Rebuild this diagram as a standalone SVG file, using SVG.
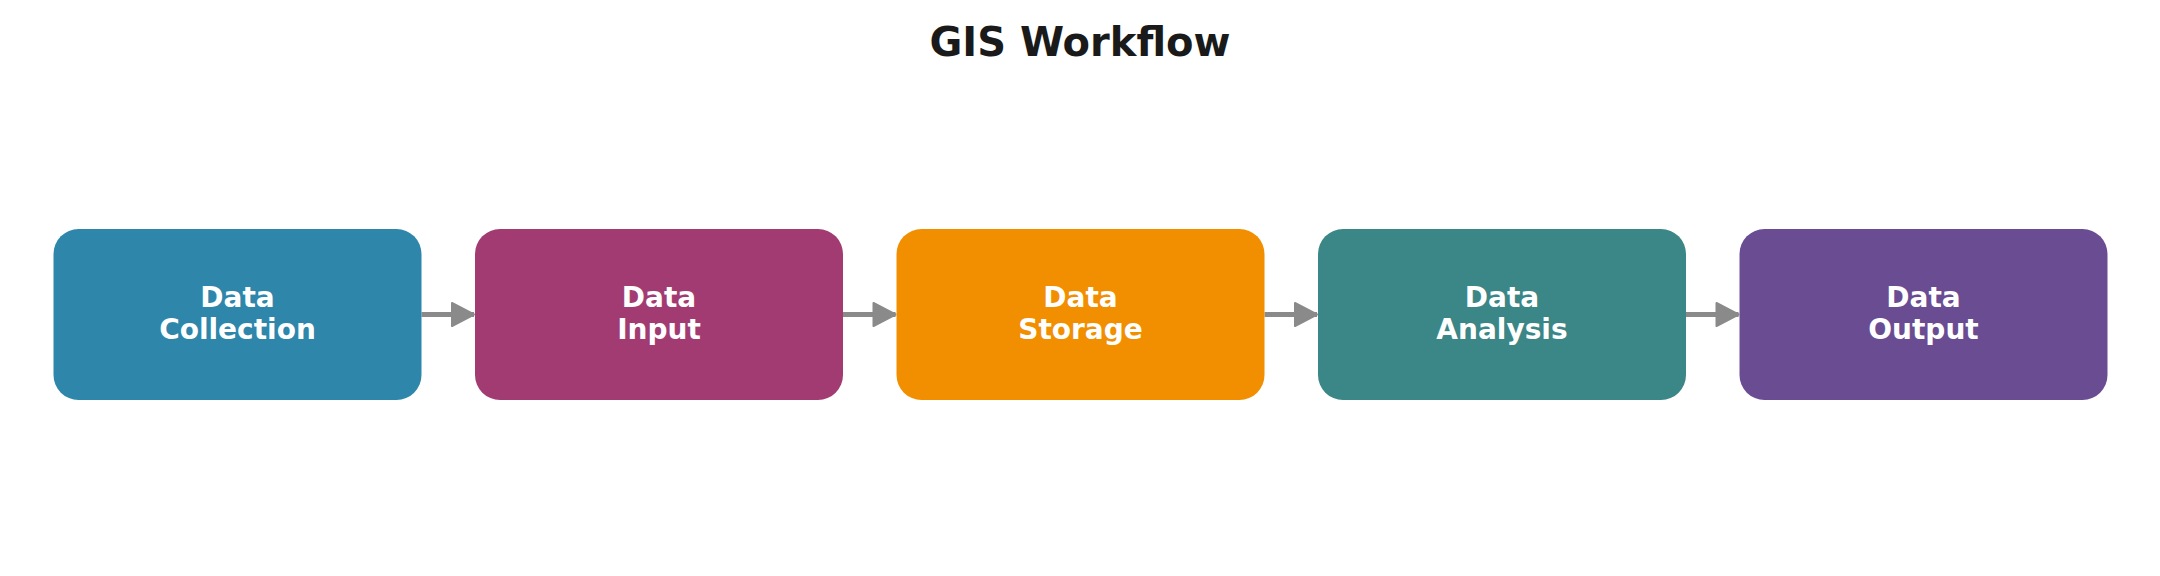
<svg xmlns="http://www.w3.org/2000/svg" width="2160" height="576" viewBox="0 0 2160 576">
  <style>
    .box { stroke: none; }
    .lbl { font-family: "DejaVu Sans", sans-serif; font-weight: bold; font-size: 28px; fill: #ffffff; text-anchor: middle; }
    .title { font-family: "DejaVu Sans", sans-serif; font-weight: bold; font-size: 40px; fill: #1a1a1a; text-anchor: middle; }
    .conn { stroke: #8a8a8a; stroke-width: 5; fill: none; }
  </style>
  <defs>
    <marker id="arrow" markerUnits="userSpaceOnUse" viewBox="0 0 26 26" refX="24" refY="13" markerWidth="26" markerHeight="26" orient="auto">
      <path d="M2,1.5 L24,13 L2,24.5 Z" fill="#8a8a8a" stroke="#8a8a8a" stroke-width="2" stroke-linejoin="round"/>
    </marker>
  </defs>
  <rect width="2160" height="576" fill="#ffffff"/>
  <text class="title" x="1080" y="56">GIS Workflow</text>
  <g id="connectors">
    <line class="conn" x1="421.5" y1="314.5" x2="474" y2="314.5" marker-end="url(#arrow)"/>
    <line class="conn" x1="843" y1="314.5" x2="895.5" y2="314.5" marker-end="url(#arrow)"/>
    <line class="conn" x1="1264.5" y1="314.5" x2="1317" y2="314.5" marker-end="url(#arrow)"/>
    <line class="conn" x1="1686" y1="314.5" x2="1738.5" y2="314.5" marker-end="url(#arrow)"/>
  </g>
  <g id="node-collection">
    <rect class="box" x="53.5" y="229" width="368" height="171" rx="25" fill="#2E86AB"/>
    <text class="lbl" x="237.5" y="307">Data</text>
    <text class="lbl" x="237.5" y="339">Collection</text>
  </g>
  <g id="node-input">
    <rect class="box" x="475" y="229" width="368" height="171" rx="25" fill="#A23B72"/>
    <text class="lbl" x="659" y="307">Data</text>
    <text class="lbl" x="659" y="339">Input</text>
  </g>
  <g id="node-storage">
    <rect class="box" x="896.5" y="229" width="368" height="171" rx="25" fill="#F18F01"/>
    <text class="lbl" x="1080.5" y="307">Data</text>
    <text class="lbl" x="1080.5" y="339">Storage</text>
  </g>
  <g id="node-analysis">
    <rect class="box" x="1318" y="229" width="368" height="171" rx="25" fill="#3B8686"/>
    <text class="lbl" x="1502" y="307">Data</text>
    <text class="lbl" x="1502" y="339">Analysis</text>
  </g>
  <g id="node-output">
    <rect class="box" x="1739.5" y="229" width="368" height="171" rx="25" fill="#6A4C93"/>
    <text class="lbl" x="1923.5" y="307">Data</text>
    <text class="lbl" x="1923.5" y="339">Output</text>
  </g>
</svg>
